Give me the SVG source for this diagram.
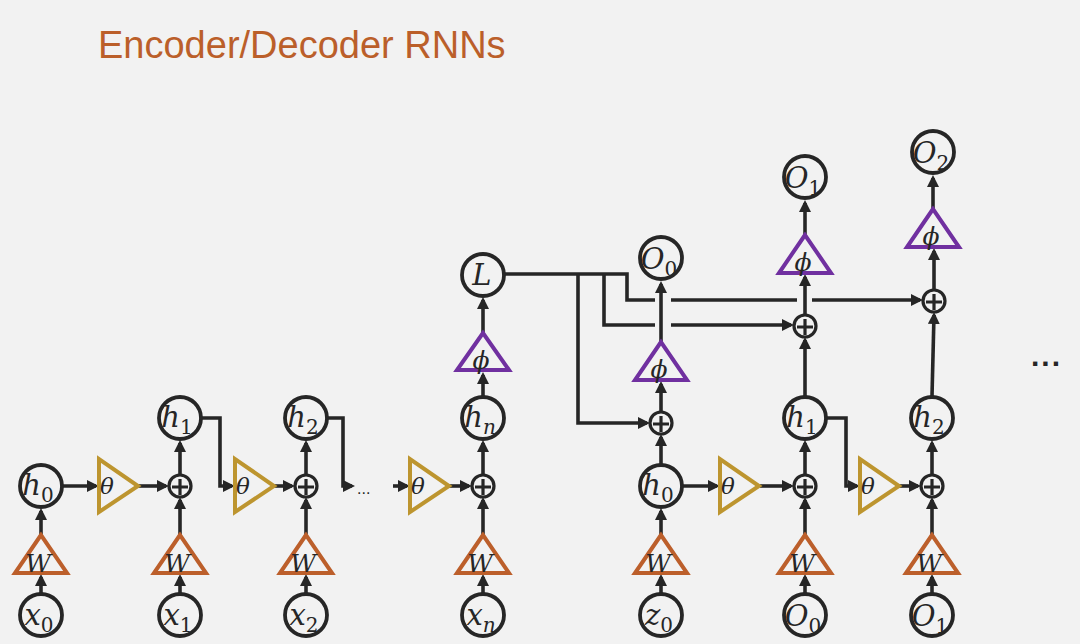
<svg xmlns="http://www.w3.org/2000/svg" width="1080" height="644" viewBox="0 0 1080 644">
<defs>
<marker id="ah" markerUnits="userSpaceOnUse" markerWidth="12" markerHeight="12" refX="9" refY="6" orient="auto">
<path d="M0,0 L12,6 L0,12 z" fill="#262626"/>
</marker>
<style>
.c{fill:none;stroke:#262626;stroke-width:3.8}
.p{fill:none;stroke:#262626;stroke-width:3.2}
.ln{fill:none;stroke:#262626;stroke-width:3.6}
.ar{fill:none;stroke:#262626;stroke-width:3.6;marker-end:url(#ah)}
.tw{fill:none;stroke:#BC5F2B;stroke-width:4}
.tt{fill:none;stroke:#BD952F;stroke-width:4}
.tp{fill:none;stroke:#7030A0;stroke-width:4}
.lb{font-family:"DejaVu Serif",serif;font-style:italic;font-size:29px;fill:#262626;text-anchor:middle}
.sb{font-size:20px;font-style:normal}
.si{font-size:20px}
.gl{font-family:"DejaVu Serif",serif;font-style:italic;font-size:23px;fill:#262626;text-anchor:middle}
.wl{font-family:"DejaVu Serif",serif;font-style:italic;font-size:25px;fill:#262626;text-anchor:middle}
.title{font-family:"Liberation Sans",Arial,sans-serif;font-size:38px;fill:#BB5F2A}
.dots{font-family:"Liberation Sans",Arial,sans-serif;fill:#262626}
</style>
</defs>
<rect width="1080" height="644" fill="#F2F2F2"/>
<text class="title" x="98" y="58">Encoder/Decoder RNNs</text>

<g id="connectors">
<path class="ar" d="M41,593 V577"/>
<path class="ar" d="M41,535 V511"/>
<path class="ar" d="M63,486 H96"/>
<path class="ar" d="M138,486 H166"/>
<path class="ar" d="M180,593 V577"/>
<path class="ar" d="M180,535 V500"/>
<path class="ar" d="M180,475 V443"/>
<path class="ar" d="M202,418 H220 V486 H232"/>
<path class="ar" d="M273,486 H292"/>
<path class="ar" d="M306,593 V577"/>
<path class="ar" d="M306,535 V500"/>
<path class="ar" d="M306,475 V443"/>
<path class="ar" d="M328,418 H343 V486 H352"/>
<path class="ar" d="M393,486 H407"/>
<path class="ar" d="M448,486 H469"/>
<path class="ar" d="M483,593 V577"/>
<path class="ar" d="M483,535 V500"/>
<path class="ar" d="M483,475 V443"/>
<path class="ar" d="M483,396 V375"/>
<path class="ar" d="M483,333 V300"/>
<path class="ln" d="M505,274 H627 V300 H655"/>
<path class="ln" d="M671,300 H797"/>
<path class="ar" d="M812,300 H920"/>
<path class="ln" d="M604,274 V325 H655"/>
<path class="ar" d="M671,325 H791"/>
<path class="ar" d="M578,274 V423 H647"/>
<path class="ar" d="M661,593 V577"/>
<path class="ar" d="M661,535 V511"/>
<path class="ar" d="M661,464 V437"/>
<path class="ar" d="M661,412 V384"/>
<path class="ar" d="M661,342 V284"/>
<path class="ar" d="M683,486 H717"/>
<path class="ar" d="M760,486 H791"/>
<path class="ar" d="M805,593 V577"/>
<path class="ar" d="M805,535 V500"/>
<path class="ar" d="M805,475 V443"/>
<path class="ar" d="M805,396 V340"/>
<path class="ar" d="M805,315 V277"/>
<path class="ar" d="M805,235 V203"/>
<path class="ar" d="M827,418 H846 V486 H857"/>
<path class="ar" d="M898,486 H918"/>
<path class="ar" d="M932,593 V577"/>
<path class="ar" d="M932,535 V500"/>
<path class="ar" d="M932,475 V443"/>
<path class="ar" d="M932,396 L934,315"/>
<path class="ar" d="M934,290 V251"/>
<path class="ar" d="M933,209 V178"/>
</g>

<text class="dots" x="357" y="494" font-size="16">...</text>
<text class="dots" x="1031" y="366" font-size="30" font-weight="bold" letter-spacing="2">...</text>

<!-- Encoder column 0 -->
<g id="x0"><circle class="c" cx="41" cy="615" r="21"/><text class="lb" x="39" y="625">x<tspan class="sb" dy="7">0</tspan></text></g>
<g id="W0"><polygon class="tw" points="41,535 15,573 67,573"/><text class="wl" x="38" y="572">W</text></g>
<g id="h0"><circle class="c" cx="41" cy="486" r="21"/><text class="lb" x="38" y="495">h<tspan class="sb" dy="7">0</tspan></text></g>
<g id="theta1"><polygon class="tt" points="99,459 99,512 138,486"/><text class="gl" x="107" y="494">θ</text></g>

<!-- Encoder column 1 -->
<g id="x1"><circle class="c" cx="180" cy="615" r="21"/><text class="lb" x="178" y="625">x<tspan class="sb" dy="7">1</tspan></text></g>
<g id="W1"><polygon class="tw" points="180,535 154,573 206,573"/><text class="wl" x="177" y="572">W</text></g>
<g id="plus1"><circle class="p" cx="180" cy="486" r="11"/><path class="p" d="M172,487 H188 M180,479 V495"/></g>
<g id="h1"><circle class="c" cx="180" cy="418" r="21"/><text class="lb" x="177" y="427">h<tspan class="sb" dy="7">1</tspan></text></g>
<g id="theta2"><polygon class="tt" points="235,459 235,512 274,486"/><text class="gl" x="243" y="494">θ</text></g>

<!-- Encoder column 2 -->
<g id="x2"><circle class="c" cx="306" cy="615" r="21"/><text class="lb" x="304" y="625">x<tspan class="sb" dy="7">2</tspan></text></g>
<g id="W2"><polygon class="tw" points="306,535 280,573 332,573"/><text class="wl" x="303" y="572">W</text></g>
<g id="plus2"><circle class="p" cx="306" cy="486" r="11"/><path class="p" d="M298,487 H314 M306,479 V495"/></g>
<g id="h2"><circle class="c" cx="306" cy="418" r="21"/><text class="lb" x="303" y="427">h<tspan class="sb" dy="7">2</tspan></text></g>

<!-- Encoder column n -->
<g id="thetan"><polygon class="tt" points="410,459 410,512 449,486"/><text class="gl" x="418" y="494">θ</text></g>
<g id="xn"><circle class="c" cx="483" cy="615" r="21"/><text class="lb" x="481" y="625">x<tspan class="si" dy="7">n</tspan></text></g>
<g id="Wn"><polygon class="tw" points="483,535 457,573 509,573"/><text class="wl" x="480" y="572">W</text></g>
<g id="plusn"><circle class="p" cx="483" cy="486" r="11"/><path class="p" d="M475,487 H491 M483,479 V495"/></g>
<g id="hn"><circle class="c" cx="483" cy="418" r="21"/><text class="lb" x="480" y="427">h<tspan class="si" dy="7">n</tspan></text></g>
<g id="phin"><polygon class="tp" points="483,333 457,370 509,370"/><text class="wl" x="481" y="369">ϕ</text></g>
<g id="L"><circle class="c" cx="483" cy="275" r="21"/><text class="lb" x="482" y="285">L</text></g>

<!-- Decoder column 0 -->
<g id="z0"><circle class="c" cx="661" cy="615" r="21"/><text class="lb" x="659" y="625">z<tspan class="sb" dy="7">0</tspan></text></g>
<g id="Wd0"><polygon class="tw" points="661,535 635,573 687,573"/><text class="wl" x="658" y="572">W</text></g>
<g id="hd0"><circle class="c" cx="661" cy="486" r="21"/><text class="lb" x="658" y="495">h<tspan class="sb" dy="7">0</tspan></text></g>
<g id="plusd0"><circle class="p" cx="661" cy="423" r="11"/><path class="p" d="M653,424 H669 M661,416 V432"/></g>
<g id="phid0"><polygon class="tp" points="661,342 635,380 687,380"/><text class="wl" x="659" y="378">ϕ</text></g>
<g id="O0"><circle class="c" cx="661" cy="258" r="21"/><text class="lb" x="659" y="269">O<tspan class="sb" dy="7">0</tspan></text></g>
<g id="thetad1"><polygon class="tt" points="720,459 720,512 759,486"/><text class="gl" x="728" y="494">θ</text></g>

<!-- Decoder column 1 -->
<g id="Oin0"><circle class="c" cx="805" cy="615" r="21"/><text class="lb" x="803" y="626">O<tspan class="sb" dy="7">0</tspan></text></g>
<g id="Wd1"><polygon class="tw" points="805,535 779,573 831,573"/><text class="wl" x="802" y="572">W</text></g>
<g id="plusd1"><circle class="p" cx="805" cy="486" r="11"/><path class="p" d="M797,487 H813 M805,479 V495"/></g>
<g id="hd1"><circle class="c" cx="805" cy="418" r="21"/><text class="lb" x="802" y="427">h<tspan class="sb" dy="7">1</tspan></text></g>
<g id="plusd1b"><circle class="p" cx="805" cy="326" r="11"/><path class="p" d="M797,327 H813 M805,319 V335"/></g>
<g id="phid1"><polygon class="tp" points="805,235 779,273 831,273"/><text class="wl" x="803" y="271">ϕ</text></g>
<g id="O1"><circle class="c" cx="805" cy="177" r="21"/><text class="lb" x="803" y="188">O<tspan class="sb" dy="7">1</tspan></text></g>
<g id="thetad2"><polygon class="tt" points="860,459 860,512 899,486"/><text class="gl" x="868" y="494">θ</text></g>

<!-- Decoder column 2 -->
<g id="Oin1"><circle class="c" cx="932" cy="615" r="21"/><text class="lb" x="930" y="626">O<tspan class="sb" dy="7">1</tspan></text></g>
<g id="Wd2"><polygon class="tw" points="932,535 906,573 958,573"/><text class="wl" x="929" y="572">W</text></g>
<g id="plusd2"><circle class="p" cx="932" cy="486" r="11"/><path class="p" d="M924,487 H940 M932,479 V495"/></g>
<g id="hd2"><circle class="c" cx="932" cy="418" r="21"/><text class="lb" x="929" y="427">h<tspan class="sb" dy="7">2</tspan></text></g>
<g id="plusd2b"><circle class="p" cx="934" cy="301" r="11"/><path class="p" d="M926,302 H942 M934,294 V310"/></g>
<g id="phid2"><polygon class="tp" points="933,209 907,247 959,247"/><text class="wl" x="931" y="245">ϕ</text></g>
<g id="O2"><circle class="c" cx="933" cy="152" r="21"/><text class="lb" x="931" y="163">O<tspan class="sb" dy="7">2</tspan></text></g>
</svg>
